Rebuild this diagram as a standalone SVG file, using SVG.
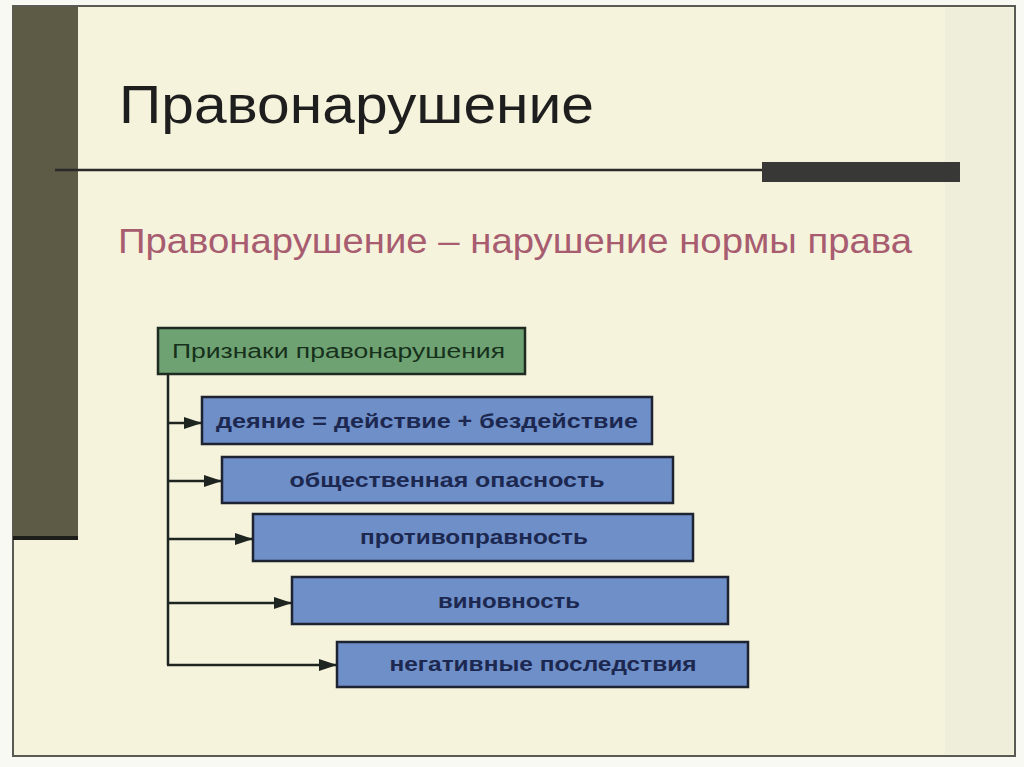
<svg xmlns="http://www.w3.org/2000/svg" width="1024" height="767" viewBox="0 0 1024 767">
  <style>
    .frame { fill: #f5f3db; stroke: #5a5a55; stroke-width: 2; }
    .title { font-family: "Liberation Sans", Arial, sans-serif; font-size: 54px; fill: #1e1e1e; }
    .sub { font-family: "Liberation Sans", Arial, sans-serif; font-size: 35px; fill: #a85c70; }
    .gbox { fill: #6fa272; stroke: #1f2a22; stroke-width: 2.5; }
    .gtext { font-family: "Liberation Sans", Arial, sans-serif; font-size: 20px; fill: #16301b; }
    .bbox { fill: #6f8fc8; stroke: #1d2330; stroke-width: 2.5; }
    .btext { font-family: "Liberation Sans", Arial, sans-serif; font-size: 20px; font-weight: bold; fill: #1c2850; text-anchor: middle; }
    .conn { fill: none; stroke: #1e2420; stroke-width: 2.5; }
  </style>
  <defs>
    <marker id="arrow" markerWidth="18" markerHeight="12" refX="18" refY="6" orient="auto" markerUnits="userSpaceOnUse">
      <path d="M0,0 L18,6 L0,12 Z" fill="#1e2420"/>
    </marker>
  </defs>
  <rect x="0" y="0" width="1024" height="767" fill="#f9f9f3"/>
  <rect class="frame" x="13" y="6" width="1002" height="750"/>
  <rect x="945" y="8" width="68" height="746" fill="#e7e9d9" opacity="0.5"/>
  <rect x="13" y="7" width="65" height="532" fill="#5d5a45"/>
  <line x1="13" y1="538" x2="78" y2="538" stroke="#1c1c18" stroke-width="4"/>

  <g id="header">
    <text class="title" x="119" y="123" textLength="475" lengthAdjust="spacingAndGlyphs">Правонарушение</text>
    <line x1="55" y1="170" x2="762" y2="170" stroke="#2a2a28" stroke-width="2.5"/>
    <rect x="762" y="162" width="198" height="20" fill="#383836"/>
    <text class="sub" x="118" y="253" textLength="794" lengthAdjust="spacingAndGlyphs">Правонарушение – нарушение нормы права</text>
  </g>

  <g id="connectors">
    <path class="conn" d="M168,374 V665"/>
    <line class="conn" x1="168" y1="423" x2="202" y2="423" marker-end="url(#arrow)"/>
    <line class="conn" x1="168" y1="481" x2="222" y2="481" marker-end="url(#arrow)"/>
    <line class="conn" x1="168" y1="539" x2="253" y2="539" marker-end="url(#arrow)"/>
    <line class="conn" x1="168" y1="603" x2="292" y2="603" marker-end="url(#arrow)"/>
    <line class="conn" x1="167" y1="665" x2="337" y2="665" marker-end="url(#arrow)"/>
  </g>

  <g id="node-priznaki">
    <rect class="gbox" x="158" y="328" width="367" height="46"/>
    <text class="gtext" x="172" y="358" textLength="333" lengthAdjust="spacingAndGlyphs">Признаки правонарушения</text>
  </g>
  <g id="node-deyanie">
    <rect class="bbox" x="202" y="397" width="450" height="47"/>
    <text class="btext" x="427" y="428" textLength="422" lengthAdjust="spacingAndGlyphs">деяние = действие + бездействие</text>
  </g>
  <g id="node-opasnost">
    <rect class="bbox" x="222" y="457" width="451" height="46"/>
    <text class="btext" x="447" y="487" textLength="315" lengthAdjust="spacingAndGlyphs">общественная опасность</text>
  </g>
  <g id="node-protivopravnost">
    <rect class="bbox" x="253" y="514" width="440" height="47"/>
    <text class="btext" x="474" y="544" textLength="228" lengthAdjust="spacingAndGlyphs">противоправность</text>
  </g>
  <g id="node-vinovnost">
    <rect class="bbox" x="292" y="577" width="436" height="47"/>
    <text class="btext" x="509" y="608" textLength="142" lengthAdjust="spacingAndGlyphs">виновность</text>
  </g>
  <g id="node-posledstviya">
    <rect class="bbox" x="337" y="642" width="411" height="45"/>
    <text class="btext" x="543" y="671" textLength="307" lengthAdjust="spacingAndGlyphs">негативные последствия</text>
  </g>
</svg>
